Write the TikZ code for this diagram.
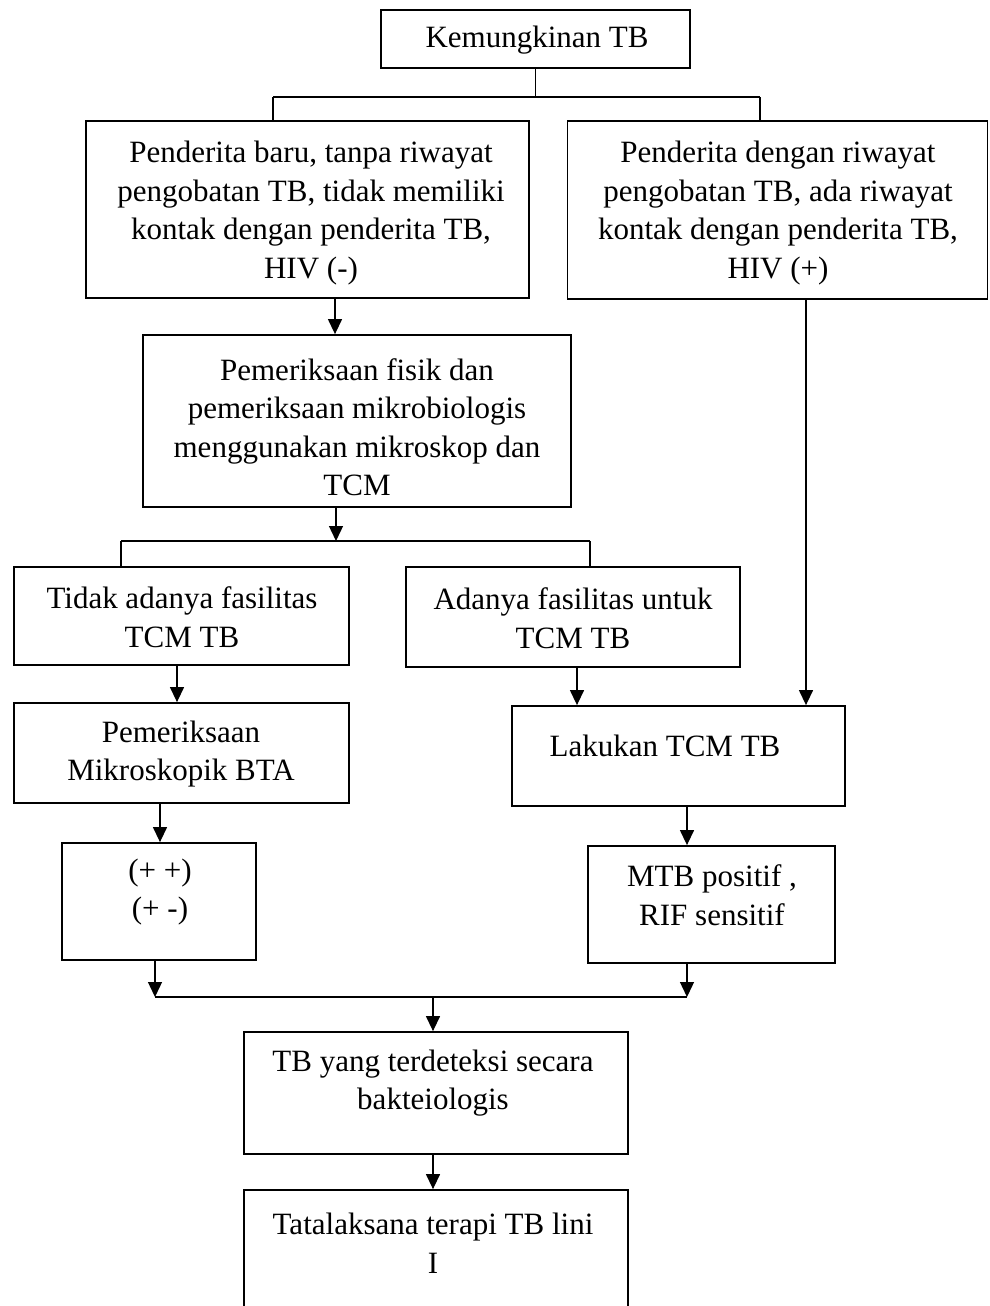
\documentclass[tikz,border=0pt]{standalone}
\usepackage{fontspec}
\setmainfont{Liberation Serif}
\usetikzlibrary{arrows.meta}
\begin{document}
\begin{tikzpicture}[x=1pt,y=-1pt,
  bx/.style={draw, line width=1.8pt, inner sep=0pt, rectangle},
  txt/.style={inner sep=0pt, align=center, font=\fontsize{31}{38.5}\selectfont},
  ln/.style={line width=1.3pt},
  arr/.style={line width=1.3pt, -{Triangle[length=15pt,width=14pt]}}]
\useasboundingbox (0,0) rectangle (989,1306);
\clip (0,0) rectangle (989,1306);
\fill[white] (0,0) rectangle (989,1306);
% boxes
\node[bx, minimum width=309pt, minimum height=58pt] (k) at (535.5,39) {};
\node[bx, minimum width=443pt, minimum height=177pt] (p1) at (307.5,209.5) {};
\node[bx, minimum width=420pt, minimum height=178pt] (p2) at (777.5,210) {};
\node[bx, minimum width=428pt, minimum height=172pt] (pf) at (357,421) {};
\node[bx, minimum width=335pt, minimum height=98pt] (td) at (181.5,616) {};
\node[bx, minimum width=334pt, minimum height=100pt] (ad) at (573,617) {};
\node[bx, minimum width=335pt, minimum height=100pt] (pm) at (181.5,753) {};
\node[bx, minimum width=333pt, minimum height=100pt] (lk) at (678.5,756) {};
\node[bx, minimum width=194pt, minimum height=117pt] (pp) at (159,901.5) {};
\node[bx, minimum width=247pt, minimum height=117pt] (mtb) at (711.5,904.5) {};
\node[bx, minimum width=384pt, minimum height=122pt] (tb) at (436,1093) {};
\node[bx, minimum width=384pt, minimum height=140pt] (tl) at (436,1260) {};
% texts
\node[txt] (k-t) at (537,40) {Kemungkinan TB};
\node[txt] (p1-t) at (311,213) {Penderita baru, tanpa riwayat\\pengobatan TB, tidak memiliki\\kontak dengan penderita TB,\\HIV (-)};
\node[txt] (p2-t) at (778,213) {Penderita dengan riwayat\\pengobatan TB, ada riwayat\\kontak dengan penderita TB,\\HIV (+)};
\node[txt] (pf-t) at (357,427) {Pemeriksaan fisik dan\\pemeriksaan mikrobiologis\\menggunakan mikroskop dan\\TCM};
\node[txt] (td-t) at (182,617) {Tidak adanya fasilitas\\TCM TB};
\node[txt] (ad-t) at (573,618) {Adanya fasilitas untuk\\TCM TB};
\node[txt] (pm-t) at (181,754) {Pemeriksaan\\Mikroskopik BTA};
\node[txt] (lk-t) at (665,746) {Lakukan TCM TB};
\node[txt] (pp-t) at (160,892) {(+ +)\\(+ -)};
\node[txt] (mtb-t) at (712,895) {MTB positif ,\\RIF sensitif};
\node[txt] (tb-t) at (433,1083) {TB yang terdeteksi secara\\bakteiologis};
\node[txt] (tl-t) at (433,1243) {Tatalaksana terapi TB lini\\I};
% helper coordinates
\coordinate (j1) at (535.5,97);
\coordinate (jl) at (273,97);
\coordinate (jr) at (760,97);
\coordinate (a1) at (335,0);
\coordinate (b2) at (336,541);
\coordinate (bl) at (121,541);
\coordinate (br) at (590,541);
\coordinate (a2) at (177,0);
\coordinate (a3) at (577,0);
\coordinate (a4) at (806,0);
\coordinate (a5) at (160,0);
\coordinate (a6) at (687,0);
\coordinate (cl) at (155,997);
\coordinate (cr) at (687,997);
\coordinate (cm) at (433,997);
% connectors
\draw[ln] (k.south) -- (j1);
\draw[ln] (jl) -- (jr);
\draw[ln] (jl) -- (jl |- p1.north);
\draw[ln] (jr) -- (jr |- p2.north);
\draw[arr] (p1.south -| a1) -- (pf.north -| a1);
\draw[arr] (pf.south -| b2) -- (b2);
\draw[ln] (bl) -- (br);
\draw[ln] (bl) -- (bl |- td.north);
\draw[ln] (br) -- (br |- ad.north);
\draw[arr] (td.south -| a2) -- (pm.north -| a2);
\draw[arr] (ad.south -| a3) -- (lk.north -| a3);
\draw[arr] (p2.south -| a4) -- (lk.north -| a4);
\draw[arr] (pm.south -| a5) -- (pp.north -| a5);
\draw[arr] (lk.south -| a6) -- (mtb.north -| a6);
\draw[arr] (pp.south -| cl) -- (cl);
\draw[arr] (mtb.south -| cr) -- (cr);
\draw[ln] (cl) -- (cr);
\draw[arr] (cm) -- (tb.north -| cm);
\draw[arr] (tb.south -| cm) -- (tl.north -| cm);
\end{tikzpicture}
\end{document}
